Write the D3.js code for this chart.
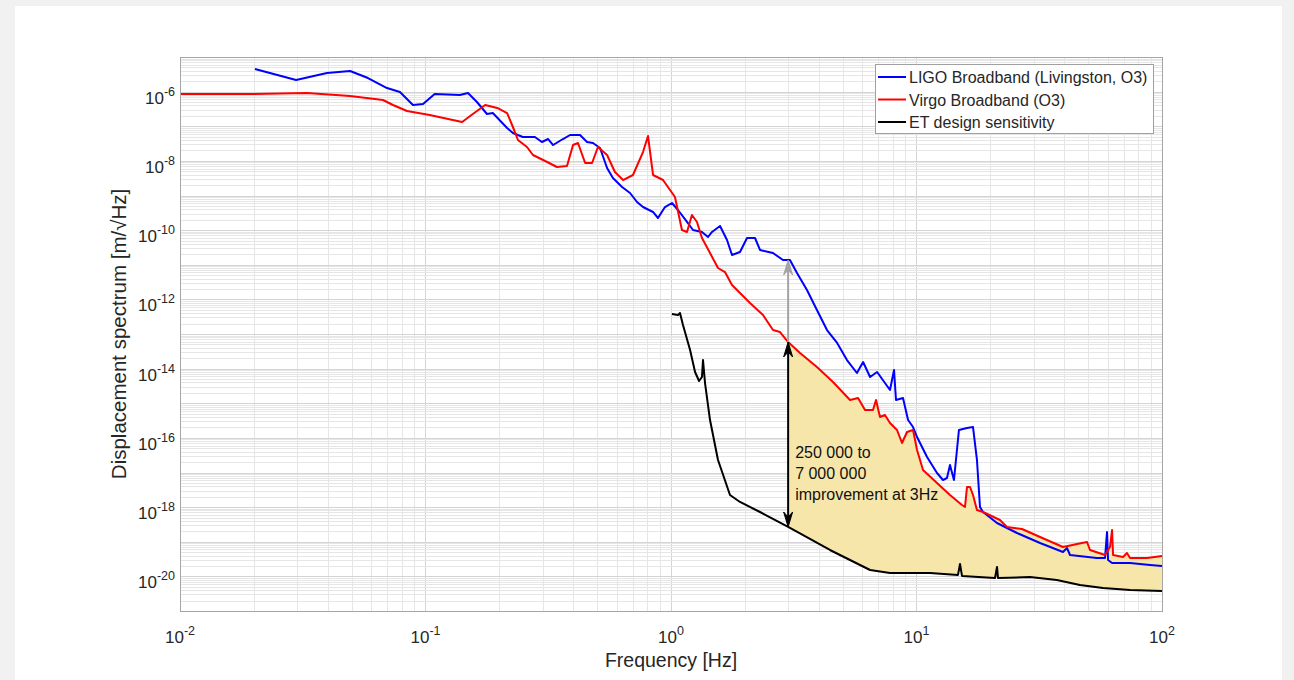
<!DOCTYPE html>
<html>
<head>
<meta charset="utf-8">
<script src="https://cdn.jsdelivr.net/npm/d3@7"></script>
<style>
  html, body { margin: 0; padding: 0; background: #f1f1f1; }
  svg { display: block; }
  text { font-family: "Liberation Sans", Arial, sans-serif; fill: #262626; }
</style>
</head>
<body>
<script>
// values (frequency in Hz, amplitude in m/sqrt(Hz))
const ligoFreq = [0.0202,0.0297,0.0397,0.0493,0.0583,0.0697,0.0787,0.0889,0.0977,0.109,0.138,0.149,0.162,0.178,0.188,0.215,0.227,0.249,0.279,0.298,0.316,0.331,0.363,0.388,0.426,0.455,0.481,0.514,0.549,0.580,0.632,0.681,0.727,0.769,0.845,0.885,0.945,1.009,1.068,1.162,1.229,1.337,1.415,1.469,1.584,1.691,1.772,1.910,2.04,2.199,2.304,2.603,2.859,3.052,3.26,3.58,3.93,4.32,4.75,5.21,5.72,6.06,6.47,6.91,7.44,7.80,8.10,8.25,8.81,9.24,9.68,10.05,11.04,12.12,12.82,13.31,13.69,14.21,14.89,16.06,16.99,17.63,18.14,18.66,21.28,25.67,31.86,39.51,41.02,42.2,54.3,58.6,59.7,60.3,62.6,74.1,89.4,100];
const ligoAsd = [4.50e-6,2.17e-6,3.45e-6,3.94e-6,2.47e-6,1.27e-6,9.75e-7,4.11e-7,4.39e-7,8.54e-7,7.99e-7,9.13e-7,5.02e-7,2.26e-7,2.41e-7,8.90e-8,6.38e-8,4.89e-8,4.89e-8,3.51e-8,4.28e-8,2.87e-8,4.28e-8,5.59e-8,5.59e-8,3.51e-8,3.28e-8,2.35e-8,6.23e-9,3.20e-9,1.76e-9,1.18e-9,6.49e-10,4.65e-10,3.34e-10,2.24e-10,4.65e-10,6.07e-10,3.81e-10,1.72e-10,1.01e-10,8.83e-11,6.33e-11,8.83e-11,1.32e-10,5.19e-11,1.91e-11,2.33e-11,5.92e-11,5.92e-11,2.67e-11,2.18e-11,1.37e-11,1.37e-11,5.78e-12,1.87e-12,4.93e-13,1.30e-13,5.50e-14,1.77e-14,7.47e-15,1.55e-14,5.73e-15,7.99e-15,3.84e-15,2.41e-15,9.12e-15,1.24e-15,1.42e-15,3.28e-16,2.06e-16,1.06e-16,2.80e-17,9.67e-18,6.07e-18,6.94e-18,1.65e-17,6.07e-18,1.69e-16,1.93e-16,2.06e-16,2.30e-17,1.01e-18,7.23e-19,3.48e-19,1.79e-19,9.20e-20,5.06e-20,6.60e-20,4.14e-20,3.39e-20,3.39e-20,1.91e-19,2.97e-20,2.43e-20,2.43e-20,2.13e-20,2.0e-20];

const virgoFreq = [0.01,0.0198,0.0329,0.0493,0.0671,0.0737,0.0841,0.104,0.141,0.152,0.175,0.196,0.215,0.227,0.238,0.259,0.274,0.313,0.343,0.377,0.399,0.418,0.447,0.477,0.504,0.549,0.591,0.638,0.700,0.769,0.806,0.845,0.928,0.991,1.038,1.108,1.162,1.217,1.276,1.337,1.442,1.554,1.659,1.772,1.910,2.098,2.37,2.603,2.78,3.0,3.354,3.93,4.57,5.36,5.78,6.17,6.65,6.84,7.10,7.44,7.80,8.33,8.73,9.15,9.68,10.05,10.63,12.12,13.69,15.32,15.76,16.06,16.52,16.99,17.63,18.66,21.88,23.36,26.9,31.86,39.51,47.2,49.5,50.9,58.6,61.4,62.6,63.2,69.4,72.0,74.1,86.9,100];
const virgoAsd = [8.54e-7,8.54e-7,9.13e-7,7.47e-7,5.73e-7,4.11e-7,2.76e-7,2.11e-7,1.33e-7,1.98e-7,4.11e-7,3.37e-7,2.41e-7,9.51e-8,4.01e-8,2.52e-8,1.48e-8,9.28e-9,6.65e-9,7.11e-9,2.87e-8,3.28e-8,8.68e-9,8.68e-9,2.52e-8,1.48e-8,4.77e-9,2.80e-9,3.91e-9,1.80e-8,5.23e-8,3.91e-9,2.80e-9,1.44e-9,9.05e-10,1.01e-10,8.83e-11,2.73e-10,1.72e-10,5.92e-11,2.18e-11,8.06e-12,6.17e-12,2.60e-12,1.53e-12,7.86e-13,3.54e-13,1.30e-13,1.14e-13,5.87e-14,2.83e-14,1.11e-14,4.11e-15,1.24e-15,1.42e-15,6.38e-16,6.38e-16,1.24e-15,4.01e-16,4.58e-16,2.69e-16,1.69e-16,7.11e-17,1.48e-16,1.69e-16,4.46e-17,1.18e-17,4.97e-18,2.24e-18,1.15e-18,1.01e-18,3.81e-18,3.81e-18,2.24e-18,8.26e-19,7.23e-19,4.25e-19,2.67e-19,2.33e-19,1.37e-19,7.05e-20,9.20e-20,9.83e-20,5.78e-20,4.14e-20,7.05e-20,2.18e-19,4.14e-20,3.63e-20,4.73e-20,3.39e-20,3.39e-20,3.88e-20];

const etFreq = [1.009,1.068,1.088,1.119,1.196,1.253,1.301,1.337,1.350,1.376,1.442,1.554,1.739,1.910,2.304,3.0,4.44,6.47,7.80,11.35,14.76,15.04,15.32,20.89,21.28,21.48,29.0,37.3,46.3,57.5,74.1,100];
const etAsd = [3.78e-13,3.54e-13,4.04e-13,1.82e-13,3.45e-14,7.99e-15,4.39e-15,5.73e-15,1.77e-14,3.84e-15,3.28e-16,2.30e-17,2.24e-18,1.41e-18,7.23e-19,2.67e-19,5.78e-20,1.53e-20,1.25e-20,1.25e-20,1.10e-20,2.28e-20,1.03e-20,8.97e-21,1.87e-20,8.97e-21,9.59e-21,7.86e-21,5.63e-21,4.61e-21,4.04e-21,3.78e-21];

const seriesNames = ['LIGO Broadband (Livingston, O3)', 'Virgo Broadband (O3)', 'ET design sensitivity'];
const seriesColors = ['#0000ff', '#ff0000', '#000000'];
const xTickExps = [-2, -1, 0, 1, 2];
const yTickExps = [-6, -8, -10, -12, -14, -16, -18, -20];
const annotFreq = 3;
const annotLines = ['250 000 to', '7 000 000', 'improvement at 3Hz'];

const W = 1294, H = 680;
const margin = {top: 57, right: 132, bottom: 69, left: 180};
const pw = W - margin.left - margin.right;
const ph = H - margin.top - margin.bottom;

const svg = d3.select('body').append('svg').attr('width', W).attr('height', H);
svg.append('rect').attr('x', 15).attr('y', 6).attr('width', 1267).attr('height', H).attr('fill', '#fff');

const x = d3.scaleLog().domain([1e-2, 1e2]).range([margin.left, margin.left + pw]);
const y = d3.scaleLog().domain([1e-21, 1e-5]).range([margin.top + ph, margin.top]);

// grid lines
const xGrid = [], yGrid = [];
for (let e = -2; e < 2; e++) for (let m = 1; m < 10; m++) xGrid.push({v: m * Math.pow(10, e), major: m === 1});
xGrid.push({v: 100, major: true});
for (let e = -21; e < -5; e++) for (let m = 1; m < 10; m++) yGrid.push({v: m * Math.pow(10, e), major: m === 1});
yGrid.push({v: 1e-5, major: true});

const grid = svg.append('g').attr('shape-rendering', 'crispEdges');
grid.selectAll('line.gx').data(xGrid).enter().append('line')
  .attr('x1', d => Math.round(x(d.v)) + 0.5).attr('x2', d => Math.round(x(d.v)) + 0.5)
  .attr('y1', margin.top).attr('y2', margin.top + ph)
  .attr('stroke', d => d.major ? '#d4d4d4' : '#e6e6e6');
grid.selectAll('line.gy').data(yGrid).enter().append('line')
  .attr('y1', d => Math.round(y(d.v)) + 0.5).attr('y2', d => Math.round(y(d.v)) + 0.5)
  .attr('x1', margin.left).attr('x2', margin.left + pw)
  .attr('stroke', d => d.major ? '#d4d4d4' : '#e6e6e6');

svg.append('clipPath').attr('id', 'clip').append('rect')
  .attr('x', margin.left).attr('y', margin.top).attr('width', pw).attr('height', ph);

// log-log interpolation
function interp(fs, vs, f) {
  let i = d3.bisectRight(fs, f) - 1;
  i = Math.max(0, Math.min(fs.length - 2, i));
  const t = (Math.log10(f) - Math.log10(fs[i])) / (Math.log10(fs[i + 1]) - Math.log10(fs[i]));
  return Math.pow(10, Math.log10(vs[i]) + t * (Math.log10(vs[i + 1]) - Math.log10(vs[i])));
}

// shaded improvement region, ET up to Virgo from 3 Hz
const fillFreq = Array.from(new Set(virgoFreq.concat(etFreq).filter(f => f >= annotFreq && f <= 100))).sort((a, b) => a - b);
const area = d3.area()
  .x(f => x(f))
  .y0(f => y(interp(etFreq, etAsd, f)))
  .y1(f => y(interp(virgoFreq, virgoAsd, f)));
svg.append('path').datum(fillFreq).attr('d', area).attr('fill', '#f7e6aa').attr('clip-path', 'url(#clip)');

const line = d3.line().x(d => x(d[0])).y(d => y(d[1]));
const series = [d3.zip(ligoFreq, ligoAsd), d3.zip(virgoFreq, virgoAsd), d3.zip(etFreq, etAsd)];
svg.append('g').attr('clip-path', 'url(#clip)')
  .selectAll('path').data(series).enter().append('path')
  .attr('d', line).attr('fill', 'none')
  .attr('stroke', (d, i) => seriesColors[i]).attr('stroke-width', 2)
  .attr('stroke-linejoin', 'round');

// arrows at 3 Hz
const ax = x(annotFreq);
const yLigo = y(interp(ligoFreq, ligoAsd, annotFreq));
const yVirgo = y(interp(virgoFreq, virgoAsd, annotFreq));
const yEt = y(interp(etFreq, etAsd, annotFreq));

function head(g, tipY, dir, color) {
  // dir -1 = up, 1 = down
  const L = 15, N = 10, hw = 4.5;
  g.append('path')
    .attr('d', `M${ax},${tipY} L${ax - hw},${tipY - dir * L} L${ax},${tipY - dir * N} L${ax + hw},${tipY - dir * L} Z`)
    .attr('fill', color).attr('stroke', color).attr('stroke-width', 1);
}
const arrows = svg.append('g');
arrows.append('line').attr('x1', ax).attr('x2', ax).attr('y1', yVirgo).attr('y2', yLigo + 10)
  .attr('stroke', '#a3a3a3').attr('stroke-width', 2);
head(arrows, yLigo, -1, '#a3a3a3');
arrows.append('line').attr('x1', ax).attr('x2', ax).attr('y1', yVirgo + 10).attr('y2', yEt - 10)
  .attr('stroke', '#000').attr('stroke-width', 2);
head(arrows, yVirgo, -1, '#000');
head(arrows, yEt, 1, '#000');

svg.append('g').selectAll('text').data(annotLines).enter().append('text')
  .attr('x', ax + 7).attr('y', (d, i) => 458 + i * 21)
  .attr('font-size', 16).style('fill', '#111').text(d => d);

// axes box
svg.append('rect').attr('x', margin.left + 0.5).attr('y', margin.top + 0.5)
  .attr('width', pw).attr('height', ph).attr('fill', 'none')
  .attr('stroke', '#a6a6a6').attr('shape-rendering', 'crispEdges');

// tick labels
const xt = svg.append('g').selectAll('text').data(xTickExps).enter().append('text')
  .attr('x', d => x(Math.pow(10, d))).attr('y', 643)
  .attr('text-anchor', 'middle').attr('font-size', 17);
xt.append('tspan').text('10');
xt.append('tspan').attr('dy', -8).attr('font-size', 12.5).text(d => d);

const yt = svg.append('g').selectAll('text').data(yTickExps).enter().append('text')
  .attr('x', 175).attr('y', d => y(Math.pow(10, d)) + 12)
  .attr('text-anchor', 'end').attr('font-size', 17);
yt.append('tspan').text('10');
yt.append('tspan').attr('dy', -8).attr('font-size', 12.5).text(d => d);

svg.append('text').attr('x', margin.left + pw / 2).attr('y', 667)
  .attr('text-anchor', 'middle').attr('font-size', 19.5).text('Frequency [Hz]');
svg.append('text').attr('transform', `translate(126,${margin.top + ph / 2}) rotate(-90)`)
  .attr('text-anchor', 'middle').attr('font-size', 20.5).text('Displacement spectrum [m/\u221AHz]');

// legend
const legend = svg.append('g');
legend.append('rect').attr('x', 875.5).attr('y', 64.5).attr('width', 278).attr('height', 69)
  .attr('fill', '#fff').attr('stroke', '#a0a0a0').attr('shape-rendering', 'crispEdges');
const items = legend.selectAll('g.item').data(seriesNames).enter().append('g')
  .attr('transform', (d, i) => `translate(878,${77 + i * 22.5})`);
items.append('line').attr('x1', 0).attr('x2', 28)
  .attr('stroke', (d, i) => seriesColors[i]).attr('stroke-width', 2);
items.append('text').attr('x', 31).attr('y', 6).attr('font-size', 16).text(d => d);
</script>
</body>
</html>
